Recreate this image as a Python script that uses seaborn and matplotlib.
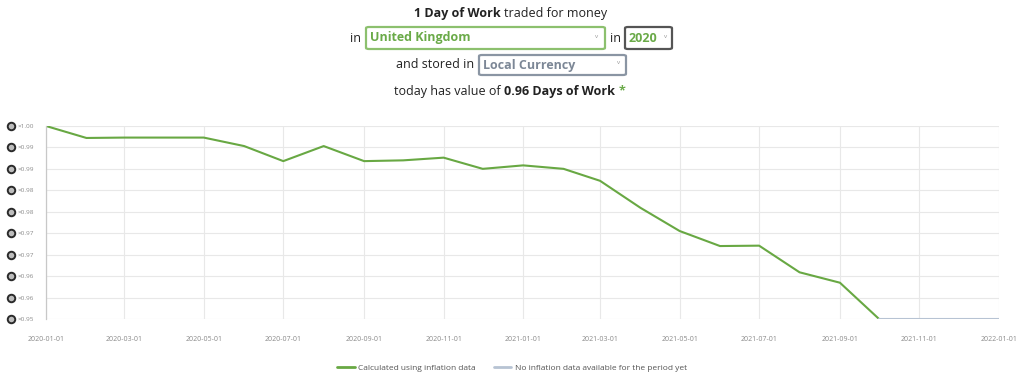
import numpy as np
import pandas as pd
import matplotlib
matplotlib.use("Agg")
import matplotlib.pyplot as plt
import matplotlib.dates as mdates
import matplotlib.transforms as mtransforms
from matplotlib.patches import FancyBboxPatch
import seaborn as sns

# ---------------------------------------------------------------
# data (value of 1 day of work, monthly)
# ---------------------------------------------------------------
calc_dates = ["2020-01-01", "2020-02-01", "2020-03-01", "2020-04-01", "2020-05-01",
              "2020-06-01", "2020-07-01", "2020-08-01", "2020-09-01", "2020-10-01",
              "2020-11-01", "2020-12-01", "2021-01-01", "2021-02-01", "2021-03-01",
              "2021-04-01", "2021-05-01", "2021-06-01", "2021-07-01", "2021-08-01",
              "2021-09-01", "2021-10-01"]
calc_values = [1.0000, 0.9969, 0.9970, 0.9970, 0.9970,
               0.9948, 0.9909, 0.9948, 0.9909, 0.9911,
               0.9918, 0.9889, 0.9898, 0.9889, 0.9858,
               0.9788, 0.9728, 0.9689, 0.9690, 0.9621,
               0.9594, 0.9500]

noinfl_dates = ["2021-10-01", "2021-11-01", "2021-12-01", "2022-01-01"]
noinfl_values = [0.9500, 0.9500, 0.9500, 0.9500]

series_names = ["Calculated using inflation data",
                "No inflation data available for the period yet"]
x_ticks = ["2020-01-01", "2020-03-01", "2020-05-01", "2020-07-01", "2020-09-01",
           "2020-11-01", "2021-01-01", "2021-03-01", "2021-05-01", "2021-07-01",
           "2021-09-01", "2021-11-01", "2022-01-01"]
y_min, y_max, n_y_ticks = 0.95, 1.00, 10

GREEN = "#68a843"
GREY_LINE = "#b7c3d3"

df = pd.concat([
    pd.DataFrame({"date": pd.to_datetime(calc_dates), "value": calc_values, "series": series_names[0]}),
    pd.DataFrame({"date": pd.to_datetime(noinfl_dates), "value": noinfl_values, "series": series_names[1]}),
])

sns.set_style("whitegrid")
plt.rcParams["font.family"] = ["Open Sans", "DejaVu Sans"]

W, H = 1024, 379
fig = plt.figure(figsize=(W / 100, H / 100), dpi=100)
ax = fig.add_axes([46 / W, (H - 319) / H, (999 - 46) / W, (319 - 126) / H])

sns.lineplot(data=df, x="date", y="value", hue="series",
             palette={series_names[0]: GREEN, series_names[1]: GREY_LINE},
             linewidth=1.5, ax=ax, legend=False)

ax.set_xlim(pd.Timestamp(x_ticks[0]), pd.Timestamp(x_ticks[-1]))
ax.set_ylim(y_min, y_max)
ax.set_xticks(pd.to_datetime(x_ticks))
ax.xaxis.set_major_formatter(mdates.DateFormatter("%Y-%m-%d"))
yt = np.linspace(y_min, y_max, n_y_ticks)
ax.set_yticks(yt)
ax.set_yticklabels(["\u00d7%.2f" % v for v in yt])
ax.set_xlabel("")
ax.set_ylabel("")

ax.grid(True, color="#e8e8e8", linewidth=0.8)
for s in ["top", "right", "bottom"]:
    ax.spines[s].set_visible(False)
ax.spines["left"].set_color("#c8c8c8")
ax.spines["left"].set_linewidth(0.9)
ax.tick_params(axis="both", length=4.3, color="#e8e8e8", labelsize=5, labelcolor="#8a8a8a")
ax.tick_params(axis="y", pad=4.3, labelsize=4.6)
ax.tick_params(axis="x", pad=8)
ax.set_facecolor("white")

# little coin icons in front of y tick labels
trans = mtransforms.blended_transform_factory(fig.transFigure, ax.transData)
ax.plot(np.full(len(yt), 11 / W), yt, linestyle="none", marker="o", markersize=5.4,
        markerfacecolor="#bdbdbd", markeredgecolor="#2a2a2a", markeredgewidth=1.4,
        transform=trans, clip_on=False)

# ---------------------------------------------------------------
# header text with the select boxes
# ---------------------------------------------------------------
fig.canvas.draw()
renderer = fig.canvas.get_renderer()
fs = 9
dark = "#222222"
TXT_GREEN = "#6aaa48"


def px(x, y):
    return x / W, 1 - y / H


def run(x, y, pieces):
    # pieces: (text, bold, colour); each one placed right after the previous one
    for txt, bold, col in pieces:
        t = fig.text(*px(x, y), txt, fontsize=fs, fontweight="bold" if bold else "normal",
                     color=col, va="center", ha="left")
        x += t.get_window_extent(renderer).width


def box(x0, y0, x1, y1, edge):
    p = FancyBboxPatch(px(x0, y1), (x1 - x0) / W, (y1 - y0) / H,
                       boxstyle="round,pad=0,rounding_size=0.003",
                       transform=fig.transFigure, facecolor="white",
                       edgecolor=edge, linewidth=1.6)
    fig.patches.append(p)


def chevron(x, y):
    fig.text(*px(x, y), "v", fontsize=4.5, color="#999999", va="center", ha="center")


run(414, 13, [("1 Day of Work ", True, dark), ("traded for money", False, dark)])

run(350, 38, [("in", False, dark)])
box(366, 27, 605, 49, "#8cc06e")
run(370, 38, [("United Kingdom", True, TXT_GREEN)])
chevron(597, 36)
run(610, 38, [("in", False, dark)])
box(625, 27, 672, 49, "#555555")
run(629, 38, [("2020", True, TXT_GREEN)])
chevron(666, 36)

run(396, 65, [("and stored in", False, dark)])
box(479, 55, 626, 75, "#8a95a3")
run(483, 65, [("Local Currency", True, "#7c8796")])
chevron(619, 63)

run(394, 91, [("today has value of ", False, dark), ("0.96 Days of Work ", True, dark),
              ("*", True, TXT_GREEN)])

# ---------------------------------------------------------------
# legend at the bottom
# ---------------------------------------------------------------
handles = [plt.Line2D([], [], color=GREEN, linewidth=2),
           plt.Line2D([], [], color=GREY_LINE, linewidth=2)]
fig.legend(handles, series_names, loc="center", bbox_to_anchor=(512 / W, 1 - 368 / H),
           ncol=2, frameon=False, fontsize=6, handlelength=2.1, handletextpad=0.4,
           columnspacing=2.2, labelcolor="#555555")

fig.savefig("out.png", dpi=100, facecolor="white")
